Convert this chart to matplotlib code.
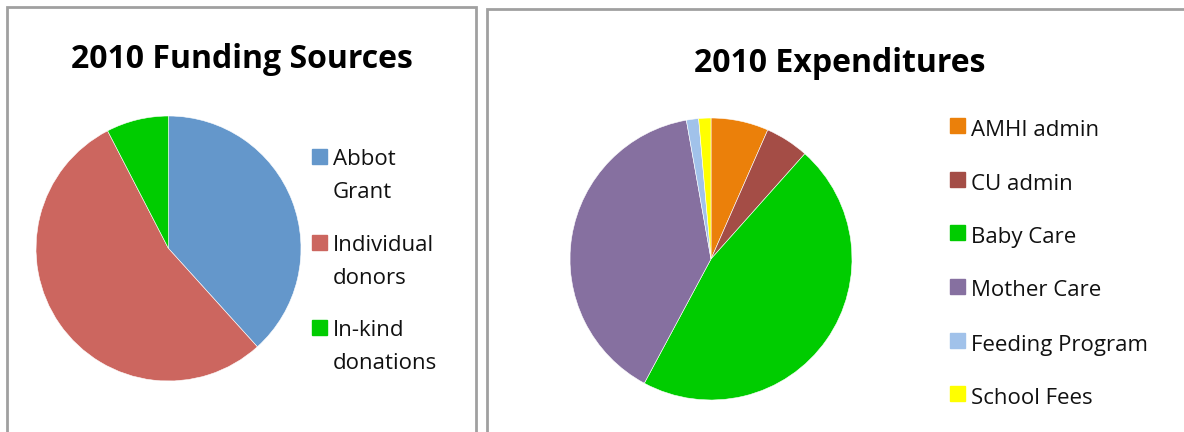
import matplotlib
matplotlib.use("Agg")
import matplotlib.pyplot as plt
from matplotlib.patches import Rectangle

# funding (percent)
fund_labels = ["Abbot\nGrant", "Individual\ndonors", "In-kind\ndonations"]
fund_values = [38.3, 54.1, 7.6]
fund_colors = ["#6497CB", "#CC665F", "#00CC00"]

# expenditures (percent)
exp_labels = ["AMHI admin", "CU admin", "Baby Care", "Mother Care", "Feeding Program", "School Fees"]
exp_values = [6.6, 5.0, 46.3, 39.4, 1.4, 1.4]
exp_colors = ["#EB800A", "#A44D46", "#00CC00", "#8670A0", "#A1C2EA", "#FFFF00"]

W, H = 1184, 432
FONT = "Open Sans"

fig = plt.figure(figsize=(W / 100, H / 100), dpi=100)


def px(x, y):
    return x / W, 1 - y / H


def pie_ax(cx, cy, r, values, colors):
    ax = fig.add_axes([(cx - r) / W, 1 - (cy + r) / H, 2 * r / W, 2 * r / H])
    ax.pie(values, colors=colors, startangle=90, counterclock=False,
           wedgeprops=dict(edgecolor="white", linewidth=0.4))
    ax.set_xlim(-1, 1); ax.set_ylim(-1, 1)
    ax.set_aspect("equal")
    ax.axis("off")
    return ax


def legend(x, ys, labels, colors, base_off, size=16, step=33):
    # ys = square centres (pixels from top)
    for y, lab, col in zip(ys, labels, colors):
        fig.patches.append(Rectangle(px(x, y + 7.5), 15 / W, 15 / H, color=col,
                                     transform=fig.transFigure))
        for i, line in enumerate(lab.split("\n")):
            fig.text(*px(x + 21, y + base_off + i * step), line, fontsize=size,
                     family=FONT, va="baseline", ha="left", color="#111111")


# panel borders
fig.patches.append(Rectangle((7 / W, -0.05), 469 / W, 1.05 - 7 / H, fill=False,
                             edgecolor="#A0A0A0", lw=2, transform=fig.transFigure))
fig.patches.append(Rectangle((487 / W, -0.05), 0.6, 1.05 - 9 / H, fill=False,
                             edgecolor="#A0A0A0", lw=2, transform=fig.transFigure))

pie_ax(168.5, 248.5, 132.5, fund_values, fund_colors)
pie_ax(711, 259, 141, exp_values, exp_colors)

fig.text(*px(242, 68), "2010 Funding Sources", fontsize=23, weight="bold",
         family=FONT, ha="center", va="baseline")
fig.text(*px(840, 72), "2010 Expenditures", fontsize=23, weight="bold",
         family=FONT, ha="center", va="baseline")

legend(312, [156, 242, 327], fund_labels, fund_colors, base_off=9)
legend(950, [125.5, 179, 233, 286, 340, 393], exp_labels, exp_colors, base_off=10.5)

fig.savefig("out.png", dpi=100, facecolor="white")
